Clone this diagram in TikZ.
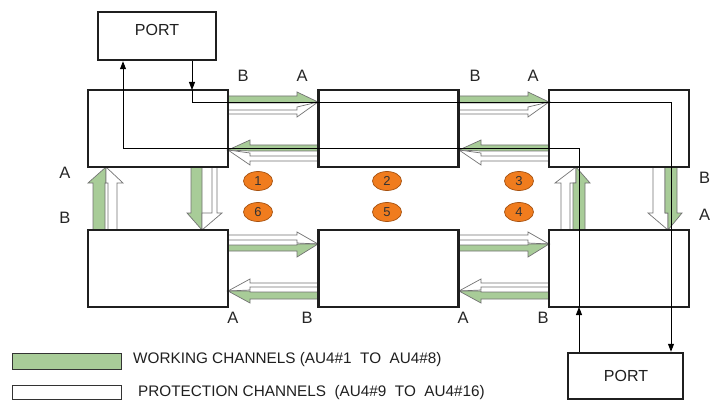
\documentclass[tikz,border=0pt]{standalone}
\usepackage{fontspec}
\setmainfont{Liberation Sans}
\usetikzlibrary{arrows.meta,shapes.geometric}
\definecolor{wgreen}{RGB}{168,204,152}
\definecolor{orng}{RGB}{240,124,30}
\definecolor{orngd}{RGB}{165,80,15}
\newcommand\harr[9]{\draw[#1] (#2,#5) -- (#3,#5) -- (#3,#7) -- (#4,#9) -- (#3,#8) -- (#3,#6) -- (#2,#6) -- cycle;}
\newcommand\varr[9]{\draw[#1] (#5,#2) -- (#5,#3) -- (#7,#3) -- (#9,#4) -- (#8,#3) -- (#6,#3) -- (#6,#2) -- cycle;}
\begin{document}
\begin{tikzpicture}[x=1pt,y=-1pt,
  box/.style={draw=black!88, line width=2.5pt, minimum width=140pt, minimum height=77pt, inner sep=0pt},
  portbox/.style={draw=black!88, line width=2.5pt, inner sep=0pt},
  wk/.style={fill=wgreen, draw=black!55, line width=0.7pt, line join=miter},
  pr/.style={fill=white, draw=black!55, line width=0.7pt, line join=miter},
  sig/.style={line width=0.9pt, black, -{Triangle[length=8pt,width=6pt]}},
  lab/.style={font=\fontsize{16.5}{18}\selectfont, text=black!85},
  txt/.style={font=\fontsize{15.3}{17}\selectfont, text=black!88, inner sep=0pt},
  num/.style={ellipse, fill=orng, draw=orngd, line width=0.7pt, minimum width=29pt, minimum height=19pt, inner sep=0pt, font=\fontsize{13}{13}\selectfont, text=black!80}]
\useasboundingbox (0,0) rectangle (712,401);
\fill[white] (0,0) rectangle (712,401);
% horizontal fat arrows, top row
\harr{wk}{228}{297}{318}{96}{103}{92}{103}{102}
\harr{pr}{228}{297}{318}{110}{114}{107}{117}{102}
\harr{wk}{318}{250}{228}{145}{151}{140}{151}{150}
\harr{pr}{318}{250}{228}{156}{161}{153}{165}{150}
\harr{wk}{459}{528}{549}{96}{103}{92}{103}{102}
\harr{pr}{459}{528}{549}{110}{114}{107}{117}{102}
\harr{wk}{549}{481}{459}{145}{151}{140}{151}{150}
\harr{pr}{549}{481}{459}{156}{161}{153}{165}{150}
% bottom row
\harr{pr}{228}{297}{318}{235}{240}{232}{243}{244}
\harr{wk}{228}{297}{318}{245}{251}{244}{257}{244}
\harr{pr}{318}{250}{228}{283}{287}{279}{290}{291}
\harr{wk}{318}{250}{228}{292}{299}{291}{303}{291}
\harr{pr}{459}{528}{549}{235}{240}{232}{243}{244}
\harr{wk}{459}{528}{549}{245}{251}{244}{257}{244}
\harr{pr}{549}{481}{459}{283}{287}{279}{290}{291}
\harr{wk}{549}{481}{459}{292}{299}{291}{303}{291}
% vertical fat arrows
\varr{wk}{230}{183}{167}{93}{105}{88}{106}{106}
\varr{pr}{230}{183}{167}{108}{117}{106}{123}{106}
\varr{wk}{167}{213}{230}{191}{202}{187}{202}{202}
\varr{pr}{167}{213}{230}{212}{217}{202}{222}{202}
\varr{pr}{230}{183}{167}{561}{570}{555}{576}{576}
\varr{wk}{230}{183}{167}{573}{585}{576}{590}{576}
\varr{pr}{167}{213}{230}{653}{665}{648}{668}{668}
\varr{wk}{167}{213}{230}{665}{677}{668}{682}{668}
% boxes
\node[box] (L1) at (158,128.5) {};
\node[box] (M1) at (388.5,128.5) {};
\node[box] (R1) at (619,128.5) {};
\node[box] (L2) at (158,268.5) {};
\node[box] (M2) at (388.5,268.5) {};
\node[box] (R2) at (619,268.5) {};
\node[portbox, minimum width=118pt, minimum height=48pt] (P1) at (157,36) {};
\node[txt, font=\fontsize{16}{18}\selectfont] at (157,30) {PORT};
\node[portbox, minimum width=115pt, minimum height=46pt] (P2) at (625.5,376) {};
\node[txt, font=\fontsize{16}{18}\selectfont] at (626,376) {PORT};
% signal lines
\coordinate (c1) at (192,90);
\coordinate (c2) at (579,307);
\draw[sig] (P1.south -| c1) -- (c1);
\draw[sig] (c1) -- (192,102) -- (671,102) -- (P2.north -| 671,0);
\draw[sig] (P2.north -| c2) -- (c2);
\draw[sig] (c2) -- (579,148) -- (123,148) -- (P1.south -| 123,0);
% port labels
\node[lab] at (243,76) {B};
\node[lab] at (302,76) {A};
\node[lab] at (475,76) {B};
\node[lab] at (533,76) {A};
\node[lab] at (65,173) {A};
\node[lab] at (65,218) {B};
\node[lab, anchor=west, inner sep=0pt] at (699,178) {B};
\node[lab, anchor=west, inner sep=0pt] at (699,215) {A};
\node[lab] at (233,318) {A};
\node[lab] at (307,318) {B};
\node[lab] at (463,318) {A};
\node[lab] at (543,318) {B};
% numbered ellipses
\node[num] (n1) at (258,181) {1};
\node[num] (n6) at (258,212) {6};
\node[num] (n2) at (387,181) {2};
\node[num] (n5) at (387,212) {5};
\node[num] (n3) at (519,181) {3};
\node[num] (n4) at (519,212) {4};
% legend
\node[draw=black!80, line width=0.9pt, fill=wgreen, minimum width=109pt, minimum height=16pt, inner sep=0pt] (lg1) at (66.5,361) {};
\node[txt, anchor=west] at (133,360) {WORKING CHANNELS (AU4\#1\ \ TO\ \ AU4\#8)};
\node[draw=black!80, line width=0.9pt, fill=white, minimum width=109pt, minimum height=14pt, inner sep=0pt] (lg2) at (66.5,392) {};
\node[txt, anchor=west] at (138,393) {PROTECTION CHANNELS\ \ (AU4\#9\ \ TO\ \ AU4\#16)};
\end{tikzpicture}
\end{document}
